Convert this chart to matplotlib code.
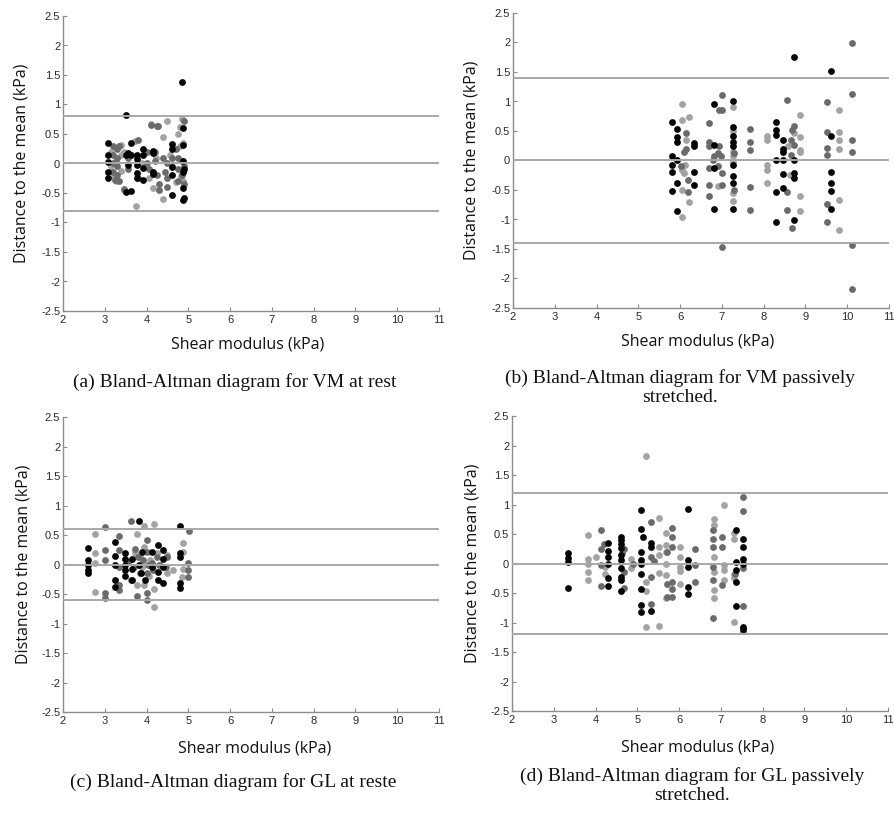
import matplotlib
matplotlib.use('Agg')
import matplotlib.pyplot as plt

# ---------------- data ----------------
# Panel (a) VM at rest
a_blk_x = [3.08,3.08,3.08,3.08,3.08, 3.50,3.50,3.50, 3.62,3.62,3.62, 3.56,3.56, 3.76,3.76,3.76,3.76,3.76,
           3.92,3.92,3.92,3.92, 4.15,4.15,4.15,4.15, 4.60,4.60,4.60,4.60,4.60, 4.84,
           4.88,4.88,4.88,4.88,4.88,4.88, 4.90,4.90]
a_blk_y = [0.34,0.14,0.02,-0.14,-0.24, 0.82,0.15,-0.49, 0.34,0.15,-0.47, 0.18,-0.03, 0.14,0.07,-0.02,-0.16,-0.25,
           0.25,0.14,-0.07,-0.28, 0.22,0.18,-0.14,-0.17, 0.33,0.24,-0.06,-0.20,-0.54, 1.38,
           0.60,0.31,0.05,-0.14,-0.42,-0.62, -0.59,-0.10]
a_dk_x = [3.20,3.20,3.20,3.20,3.25, 3.30,3.30,3.30,3.30, 3.35,3.35, 3.45, 3.55,3.55, 3.80,3.80,
          4.00,4.00,4.05, 4.20,4.20,4.25, 4.28,4.30,4.30, 4.40,4.45,4.50,4.50,4.50,
          4.60,4.70,4.75,4.75,4.75, 4.85,4.85,4.90,4.90,4.90, 4.10,4.25]
a_dk_y = [0.30,0.15,0.00,-0.15,-0.28, 0.25,0.10,-0.05,-0.20, 0.30,-0.30, -0.43, 0.10,-0.10, 0.40,-0.25,
          0.20,0.00,-0.10, 0.20,0.05,-0.20, 0.63,-0.35,-0.45, 0.10,-0.15,0.00,-0.25,-0.40,
          0.10,0.25,0.10,-0.10,-0.30, 0.05,-0.20,0.72,-0.35,-0.05, 0.65,0.64]
a_lt_x = [3.15,3.15,3.22,3.28,3.28, 3.38,3.38,3.38, 3.45,3.45, 3.75,3.72, 3.90,4.05,4.15,
          4.10,4.22,4.40,4.40, 4.50,4.55,4.60,4.70, 4.80,4.80,4.82,4.85,4.88,4.88,4.75]
a_lt_y = [0.20,-0.05,-0.22,0.05,-0.30, 0.32,0.15,-0.12, 0.20,-0.45, -0.72,0.38, 0.00,-0.25,-0.42,
          0.67,0.10,0.45,-0.60, 0.72,0.15,-0.05,-0.32, 0.62,0.30,-0.22,0.75,0.35,-0.30,0.50]

# Panel (b) VM passively stretched
b_blk_x = [5.81,5.81,5.81,5.81,5.81, 5.93,5.93,5.93,5.93,5.93,5.93, 6.33,6.33,6.33,6.33,
           6.81,6.81,6.81,6.81, 7.26,7.26,7.26,7.26,7.26,7.26,7.26,7.26,7.26,
           8.29,8.29,8.29,8.29,8.29,8.29, 8.47,8.47,8.47,8.47,8.47,8.47,
           8.73,8.73,8.73,8.73,8.73, 9.60,9.60,9.60,9.60,9.60,9.60]
b_blk_y = [0.66,0.07,-0.07,-0.20,-0.51, 0.53,0.40,0.32,0.01,-0.38,-0.85, 0.29,0.25,-0.20,-0.41,
           0.96,0.27,-0.13,-0.82, 1.01,0.56,0.41,0.32,0.24,-0.08,-0.26,-0.38,-0.83,
           0.66,0.52,0.43,0.00,-0.54,-1.05, 0.35,0.20,0.14,0.00,-0.23,-0.46,
           1.76,0.00,-0.21,-0.30,-1.01, 1.51,0.41,-0.19,-0.38,-0.51,-0.83]
b_dk_x = [6.68,6.68,6.68,6.68,6.68,6.68, 6.15,6.15,6.18,6.18,6.10,6.02,
          7.01,7.01,6.92,6.94,6.90,6.98,7.01,7.01,7.01,6.82,6.78,6.90, 7.30,7.30,
          7.68,7.68,7.68,7.68,7.68, 8.57,8.65,8.69,8.57,8.57,8.69,8.73,8.73,8.65,
          9.52,9.52,9.52,9.52,9.52,9.52, 10.12,10.12,10.12,10.12,10.12,10.12]
b_dk_y = [0.63,0.32,0.25,-0.12,-0.42,-0.61, 0.46,0.20,-0.33,-0.53,0.15,-0.10,
          1.11,0.86,0.86,0.24,0.12,0.07,-0.21,-0.41,-1.46,0.07,0.01,-0.10, 0.12,-0.50,
          0.53,0.32,0.18,-0.45,-0.84, 1.02,0.35,0.52,-0.54,-0.84,-1.14,0.58,0.27,0.10,
          0.99,0.49,0.22,0.10,-0.74,-1.05, 1.99,1.13,0.35,0.14,-1.43,-2.18]
b_lt_x = [6.04,6.04,6.21,6.04,6.10,6.05,6.05,6.21,6.12,6.15,
          7.26,7.26,7.26,7.26,7.26,7.26,6.90,7.26, 8.09,8.09,8.09,8.09,8.09,
          8.88,8.88,8.88,8.88,8.88,8.88,8.63,8.59,8.73, 9.80,9.80,9.80,9.80,9.80,9.80]
b_lt_y = [0.96,0.69,0.74,-0.16,-0.21,-0.50,-0.96,-0.71,-0.07,0.35,
          0.90,0.15,0.07,-0.02,-0.55,-0.69,-0.44,0.50, 0.41,0.35,-0.07,-0.16,-0.38,
          0.77,0.40,0.18,0.14,-0.61,-0.85,-0.24,0.24,0.46, 0.85,0.49,0.35,0.20,-0.67,-1.18]

# Panel (c) GL at rest
c_blk_x = [2.60,2.60,2.60,2.60,2.60, 3.24,3.24,3.24,3.24,3.24, 3.48,3.48,3.48,3.48,3.48,
           3.64,3.64,3.64, 3.82,3.82, 3.87, 3.88,3.96, 4.12,4.12, 4.27,4.27,4.27,
           4.39,4.39,4.39,4.39, 4.81,4.81,4.81,4.81,4.81]
c_blk_y = [0.28,0.07,0.00,-0.10,-0.15, 0.38,0.14,0.00,-0.27,-0.38, 0.19,0.10,0.00,-0.10,-0.19,
           0.10,-0.07,-0.27, 0.74,-0.01, -0.15, 0.21,-0.27, 0.21,-0.04, 0.33,-0.12,-0.27,
           0.24,0.10,-0.04,-0.31, 0.65,0.19,0.13,-0.32,-0.39]
c_dk_x = [3.00,3.00,3.00,3.00,3.00, 3.33,3.33,3.33,3.33,3.33, 3.62,3.62,3.78, 4.00,4.00,4.02,
          3.80,3.92,4.04,4.16,3.84,3.72,4.00,4.24,4.00,4.12, 5.00,5.00,5.00,5.02, 4.50,4.46,
          3.55,3.70,4.30]
c_dk_y = [0.64,0.24,0.07,-0.49,-0.56, 0.48,0.24,-0.04,-0.35,-0.43, 0.74,-0.27,-0.54, 0.41,-0.49,-0.60,
          0.13,0.07,-0.01,-0.10,-0.15,0.27,0.21,0.13,-0.15,0.02, 0.02,-0.10,-0.21,0.56, 0.13,-0.04,
          0.05,-0.05,0.00]
c_lt_x = [2.76,2.76,2.76,2.76, 3.77,3.93,4.17,4.17,4.17, 3.76,3.93,3.72,3.84,4.08,4.24,4.32,
          4.48,4.48, 4.88,4.88,4.88,4.86, 4.64,3.95,4.05,3.90]
c_lt_y = [0.52,0.19,0.03,-0.46, 0.52,0.65,0.68,-0.41,-0.72, -0.35,-0.35,0.19,0.13,0.08,0.19,0.00,
          0.16,-0.15, 0.36,0.21,-0.08,-0.21, -0.10,0.30,-0.20,-0.05]

# Panel (d) GL passively stretched
d_blk_x = [3.34,3.34,3.34,3.34, 4.29,4.29,4.29,4.29,4.29,4.29,
           4.62,4.62,4.62,4.62,4.62,4.62,4.62,4.62,4.62,4.62,
           5.08,5.08,5.08,5.08,5.08,5.08,5.08,5.08,5.08, 5.14, 5.33,5.33,5.33,
           6.21,6.21,6.21,6.21,6.21, 7.37,7.37,7.37,7.37,7.37, 7.54,7.54,7.54,7.54,7.54,7.54]
d_blk_y = [0.18,0.10,0.02,-0.41, 0.35,0.21,0.11,0.00,-0.24,-0.38,
           0.45,0.40,0.33,0.26,0.15,0.06,-0.07,-0.23,-0.28,-0.46,
           0.90,0.58,0.20,0.06,0.00,-0.17,-0.43,-0.71,-0.82, 0.45, 0.34,0.28,-0.80,
           0.93,0.06,-0.06,-0.39,-0.51, 0.56,0.03,-0.11,-0.31,-0.72, 0.42,0.28,0.08,-0.01,-1.07,-1.11]
d_dk_x = [4.12,4.12,4.12,4.12,4.20, 4.64,4.68,4.68,4.68, 5.33,5.33,5.33,5.33,
          5.83,5.83,5.83,5.83,5.83,5.83,5.70,5.70, 6.39,6.39,6.39,
          6.81,6.81,6.81,6.81,6.81,6.81, 7.03,7.03,7.03, 7.54,7.54,7.54,7.54,7.54,7.34,
          5.40,5.70,4.90]
d_dk_y = [0.56,0.24,-0.03,-0.38,0.33, 0.17,-0.14,-0.42,0.25, 0.70,0.11,-0.23,-0.68,
          0.60,0.45,0.28,-0.31,-0.43,-0.56,-0.34,-0.56, 0.24,-0.02,-0.31,
          0.57,0.42,0.28,-0.06,-0.28,-0.93, 0.45,0.28,-0.37, 1.13,0.89,-0.08,-0.72,-1.14,-0.17,
          0.05,0.20,0.00]
d_lt_x = [3.83,3.83,3.83,3.83,3.83, 4.00,4.23,4.23, 4.86,4.86, 5.21,5.21,5.21,5.21,
          5.51,5.51,5.51,5.51,5.51, 5.69,5.69,5.69,5.69,5.69,5.69, 6.01,6.01,6.01,6.01,6.01,
          6.83,6.83,6.83,6.83,6.83,6.83, 7.07,7.07,7.07,7.07, 7.31,7.31,7.31,7.31,7.31]
d_lt_y = [0.48,0.08,0.00,-0.14,-0.28, 0.11,-0.06,-0.17, 0.08,-0.08, 1.82,-0.31,-0.46,-1.08,
          0.77,0.28,0.14,-0.16,-1.06, 0.51,0.31,0.20,0.00,-0.20,-0.59, 0.28,0.11,-0.06,-0.12,-0.34,
          0.76,0.65,0.11,-0.14,-0.45,-0.58, 0.99,-0.03,-0.11,-0.28, 0.51,0.42,-0.17,-0.25,-0.99]

limits = {'a': 0.8, 'b': 1.4, 'c': 0.6, 'd': 1.2}
captions = {
    'a': "(a) Bland-Altman diagram for VM at rest",
    'b': "(b) Bland-Altman diagram for VM passively\nstretched.",
    'c': "(c) Bland-Altman diagram for GL at reste",
    'd': "(d) Bland-Altman diagram for GL passively\nstretched.",
}
x_ticks = [2, 3, 4, 5, 6, 7, 8, 9, 10, 11]
y_ticks = [-2.5, -2, -1.5, -1, -0.5, 0, 0.5, 1, 1.5, 2, 2.5]
y_tick_labels = ['-2.5', '-2', '-1.5', '-1', '-0.5', '0', '0.5', '1', '1.5', '2', '2.5']

series = {
    'a': [(a_blk_x, a_blk_y), (a_dk_x, a_dk_y), (a_lt_x, a_lt_y)],
    'b': [(b_blk_x, b_blk_y), (b_dk_x, b_dk_y), (b_lt_x, b_lt_y)],
    'c': [(c_blk_x, c_blk_y), (c_dk_x, c_dk_y), (c_lt_x, c_lt_y)],
    'd': [(d_blk_x, d_blk_y), (d_dk_x, d_dk_y), (d_lt_x, d_lt_y)],
}

# ---------------- layout ----------------
W, H = 894, 813
fig = plt.figure(figsize=(W / 100, H / 100), dpi=100)
fig.patch.set_facecolor('white')

def rect(l, t, r, b):
    return [l / W, 1 - b / H, (r - l) / W, (b - t) / H]

boxes = {'a': (63, 16, 439, 311), 'b': (513, 13, 889, 308),
         'c': (63, 417, 439, 712), 'd': (512, 416, 888, 711)}
cap_pos = {'a': (235, 382), 'b': (680, 388), 'c': (233, 782), 'd': (692, 786)}
ylab_x = {'a': -0.09, 'b': -0.088, 'c': -0.085, 'd': -0.085}
xlab_pos = {'a': (0.492, -0.085), 'b': (0.492, -0.085), 'c': (0.51, -0.095), 'd': (0.495, -0.098)}

colors = ['#050505', '#6b6b6b', '#a3a3a3']
label_font = 'Open Sans'

for key in ['a', 'b', 'c', 'd']:
    ax = fig.add_axes(rect(*boxes[key]))
    for (xs, ys), col in zip(reversed(series[key]), reversed(colors)):
        ax.scatter(xs, ys, s=24, color=col, linewidths=0, zorder=2)
    lim = limits[key]
    for yv in (lim, 0, -lim):
        ax.axhline(yv, color='#a8a8a8', lw=1.4, zorder=3)
    ax.set_xlim(2, 11)
    ax.set_ylim(-2.5, 2.5)
    ax.set_xticks(x_ticks)
    ax.set_xticklabels([str(t) for t in x_ticks])
    ax.set_yticks(y_ticks)
    ax.set_yticklabels(y_tick_labels)
    for s in ('top', 'right'):
        ax.spines[s].set_visible(False)
    for s in ('left', 'bottom'):
        ax.spines[s].set_color('#8c8c8c')
        ax.spines[s].set_linewidth(1.0)
    ax.tick_params(direction='in', length=3, width=0.8, color='#8c8c8c',
                   labelsize=8, labelcolor='#2a2a2a')
    ax.tick_params(axis='x', pad=3)
    ax.tick_params(axis='y', pad=2)
    for lab in ax.get_xticklabels() + ax.get_yticklabels():
        lab.set_family('Liberation Sans')
    ax.set_ylabel('Distance to the mean (kPa)', fontsize=11.5, family=label_font, color='#111111')
    ax.yaxis.set_label_coords(ylab_x[key], 0.5)
    ax.set_xlabel('Shear modulus (kPa)', fontsize=11.5, family=label_font, color='#111111')
    ax.xaxis.set_label_coords(*xlab_pos[key])
    cx, cy = cap_pos[key]
    fig.text(cx / W, 1 - cy / H, captions[key], ha='center', va='center',
             multialignment='center', family='Liberation Serif', fontsize=14,
             color='#111111', linespacing=1.15)

fig.savefig('out.png', dpi=100, facecolor='white')
